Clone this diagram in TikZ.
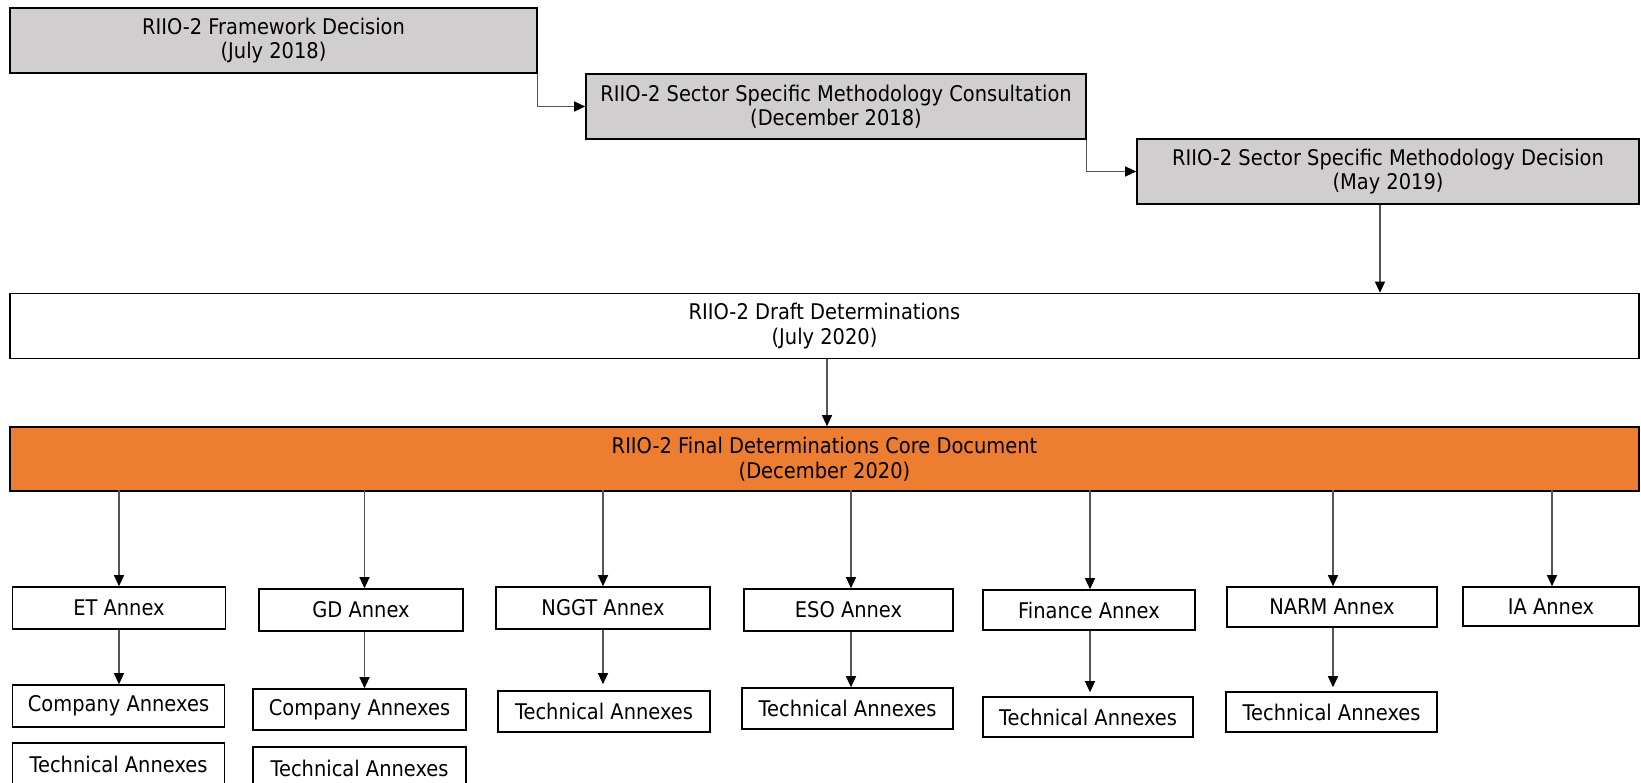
\documentclass[tikz,border=0pt]{standalone}
\usepackage{fontspec}
\setmainfont[FakeStretch=0.9]{DejaVu Sans}
\usetikzlibrary{arrows.meta}
\definecolor{stagegray}{HTML}{D0CECE}
\definecolor{coreorange}{HTML}{ED7D31}
\definecolor{linkgray}{HTML}{555555}
\tikzset{
  boxbase/.style={draw=black, line width=1.6pt, align=center, inner sep=0pt},
  stage/.style={boxbase, fill=stagegray, minimum height=65pt, font=\fontsize{21.6}{24.5}\selectfont},
  wide/.style={boxbase, minimum width=1629pt, minimum height=65pt, font=\fontsize{21.6}{24.5}\selectfont},
  annex/.style={boxbase, fill=white, minimum height=41pt, font=\fontsize{21.6}{24}\selectfont},
  link/.style={draw=linkgray, line width=1.2pt, -{Triangle[length=11pt,width=10pt,color=black]}}
}
\begin{document}
\begin{tikzpicture}[x=1pt,y=-1pt]
\path[use as bounding box] (0,0) rectangle (1641,783);

% methodology stages
\node[stage, minimum width=527pt] (fw) at (273.5,40.5) {RIIO-2 Framework Decision\\(July 2018)};
\node[stage, minimum width=500pt] (ssmc) at (836,106.5) {RIIO-2 Sector Specific Methodology Consultation\\(December 2018)};
\node[stage, minimum width=502pt] (ssmd) at (1388,171.5) {RIIO-2 Sector Specific Methodology Decision\\(May 2019)};

% determinations
\node[wide, fill=white] (draft) at (824.5,326) {RIIO-2 Draft Determinations\\(July 2020)};
\node[wide, fill=coreorange, minimum height=64pt] (final) at (824.5,459) {RIIO-2 Final Determinations Core Document\\(December 2020)};

% first row of annexes
\node[annex, minimum width=213pt, minimum height=42pt] (et) at (119,608) {ET Annex};
\node[annex, minimum width=204pt, minimum height=42pt] (gd) at (361,610) {GD Annex};
\node[annex, minimum width=214pt, minimum height=42pt] (nggt) at (603,608) {NGGT Annex};
\node[annex, minimum width=209pt, minimum height=42pt] (eso) at (848.5,610) {ESO Annex};
\node[annex, minimum width=212pt, minimum height=40pt] (fin) at (1089,610) {Finance Annex};
\node[annex, minimum width=210pt, minimum height=40pt] (narm) at (1332,607) {NARM Annex};
\node[annex, minimum width=176pt, minimum height=39pt] (ia) at (1551,606.5) {IA Annex};

% second and third rows
\node[annex, minimum width=212pt, minimum height=42pt] (etco) at (118.5,706) {Company Annexes};
\node[annex, minimum width=212pt, minimum height=42pt] (ettech) at (118.5,764) {Technical Annexes};
\node[annex, minimum width=213pt] (gdco) at (359.5,709.5) {Company Annexes};
\node[annex, minimum width=213pt, minimum height=42pt] (gdtech) at (359.5,768) {Technical Annexes};
\node[annex, minimum width=212pt] (nggttech) at (604,711.5) {Technical Annexes};
\node[annex, minimum width=211pt] (esotech) at (847.5,708.5) {Technical Annexes};
\node[annex, minimum width=210pt, minimum height=40pt] (fintech) at (1088,717) {Technical Annexes};
\node[annex, minimum width=211pt, minimum height=40pt] (narmtech) at (1331.5,712) {Technical Annexes};

% elbow links between stages
\draw[link] (fw.south east) |- (ssmc.west);
\draw[link] (ssmc.south east) |- (ssmd.west);

% vertical links
\coordinate (c1) at (1380,0);
\draw[link] (ssmd.south -| c1) -- (draft.north -| c1);
\coordinate (c2) at (827,0);
\draw[link] (draft.south -| c2) -- (final.north -| c2);

\coordinate (x1) at (119,0);
\coordinate (x2) at (364.5,0);
\coordinate (x3) at (603,0);
\coordinate (x4) at (851,0);
\coordinate (x5) at (1090,0);
\coordinate (x6) at (1333,0);
\coordinate (x7) at (1552,0);
\draw[link] ([yshift=2pt]final.south -| x1) -- (et.north -| x1);
\draw[link] ([yshift=2pt]final.south -| x2) -- (gd.north -| x2);
\draw[link] ([yshift=2pt]final.south -| x3) -- (nggt.north -| x3);
\draw[link] ([yshift=2pt]final.south -| x4) -- (eso.north -| x4);
\draw[link] ([yshift=2pt]final.south -| x5) -- (fin.north -| x5);
\draw[link] ([yshift=2pt]final.south -| x6) -- (narm.north -| x6);
\draw[link] ([yshift=2pt]final.south -| x7) -- (ia.north -| x7);

\draw[link] (et.south -| x1) -- (etco.north -| x1);
\draw[link] (gd.south -| x2) -- (gdco.north -| x2);
\draw[link, shorten >=6pt] (nggt.south -| x3) -- (nggttech.north -| x3);
\draw[link] (eso.south -| x4) -- (esotech.north -| x4);
\draw[link, shorten >=4pt] (fin.south -| x5) -- (fintech.north -| x5);
\draw[link, shorten >=4pt] (narm.south -| x6) -- (narmtech.north -| x6);
\end{tikzpicture}
\end{document}
